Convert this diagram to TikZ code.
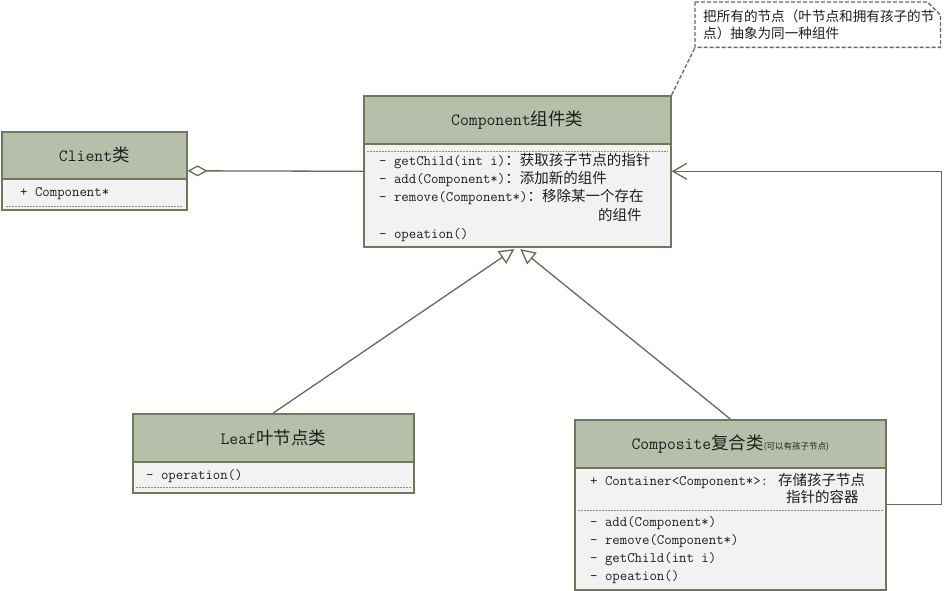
\documentclass[tikz,border=0pt]{standalone}
\usepackage{fontspec}
\newfontfamily\cjk{Noto Sans CJK SC}
\usetikzlibrary{arrows.meta,calc}
\definecolor{hdr}{HTML}{B7BFAB}
\definecolor{bord}{HTML}{6E785C}
\definecolor{bodyc}{HTML}{F2F2F2}
\definecolor{lnc}{HTML}{646D55}
\definecolor{dsh}{HTML}{8C8C8C}
\definecolor{txt}{HTML}{1E1E1E}
\newcommand\zh[1]{{\cjk\fontsize{14.5}{18}\selectfont #1}}
\newcommand\zhH[1]{{\cjk\fontsize{17.5}{20}\selectfont #1}}
\newcommand\zhS[1]{{\cjk\fontsize{8.5}{10}\selectfont #1}}
\begin{document}
\begin{tikzpicture}[x=1pt,y=-1pt,
  hbox/.style={draw=bord, fill=hdr, line width=1.6pt, inner sep=0pt, anchor=north west},
  bbox/.style={draw=bord, fill=bodyc, line width=1.6pt, inner sep=0pt, anchor=north west},
  htxt/.style={font=\fontsize{17.2}{20}\ttfamily, text=txt, inner sep=0pt, anchor=center},
  btxt/.style={font=\fontsize{14.4}{18}\ttfamily, text=txt, inner sep=0pt, anchor=base west},
  sepline/.style={dsh, dash pattern=on 2pt off 1pt, line width=1pt},
  conn/.style={lnc, line width=1.3pt},
  notestyle/.style={draw=lnc, dash pattern=on 4pt off 2pt, line width=1.3pt},
]
\useasboundingbox (0,0) rectangle (944,591);
\fill[white] (0,0) rectangle (944,591);

% Client
\node[bbox, minimum width=185pt, minimum height=78pt] (clientB) at (1,131) {};
\node[hbox, minimum width=185pt, minimum height=47pt] (clientH) at (1,131) {};
\node[htxt] (clientT) at (clientH.center) {Client\zhH{类}};
\node[btxt] (clientA) at (20,196) {+ Component*};
\draw[sepline] ($(clientB.south west)+(5,-4)$) -- ($(clientB.south east)+(-5,-4)$);

% Component
\node[bbox, minimum width=307pt, minimum height=151pt] (compB) at (363,95) {};
\node[hbox, minimum width=307pt, minimum height=48pt] (compH) at (363,95) {};
\node[htxt] (compT) at (compH.center) {Component\zhH{组件类}};
\draw[sepline] ($(compH.south west)+(4,6.5)$) -- ($(compH.south east)+(-4,6.5)$);
\node[btxt] (c1) at (379,165) {- getChild(int i)\zh{：获取孩子节点的指针}};
\node[btxt] (c2) at (379,183) {- add(Component*)\zh{：添加新的组件}};
\node[btxt] (c3) at (379,201.5) {- remove(Component*)\zh{：移除某一个存在}};
\node[btxt] (c4) at (598,220) {\zh{的组件}};
\node[btxt] (c5) at (379,238.5) {- opeation()};

% Note
\node[inner sep=0pt, minimum width=245pt, minimum height=45pt, anchor=north west] (note) at (695,2) {};
\draw[notestyle] (note.north west) -- ($(note.north east)+(-13,0)$) -- ($(note.north east)+(0,13)$) -- (note.south east) -- (note.south west) -- cycle;
\node[inner sep=0pt, anchor=west, text=txt, font=\cjk\fontsize{13.6}{16}\selectfont] (n1) at (703,16.5) {把所有的节点（叶节点和拥有孩子的节};
\node[inner sep=0pt, anchor=west, text=txt, font=\cjk\fontsize{13.6}{16}\selectfont] (n2) at (703,33) {点）抽象为同一种组件};
\draw[notestyle] (compH.north east) -- (note.south west);

% Leaf
\node[bbox, minimum width=281pt, minimum height=79pt] (leafB) at (132,413) {};
\node[hbox, minimum width=281pt, minimum height=48pt] (leafH) at (132,413) {};
\node[htxt] (leafT) at (leafH.center) {Leaf\zhH{叶节点类}};
\node[btxt] (l1) at (146,479.5) {- operation()};
\draw[sepline] ($(leafB.south west)+(4,-6)$) -- ($(leafB.south east)+(-4,-6)$);

% Composite
\node[bbox, minimum width=311pt, minimum height=170pt] (compoB) at (574,419) {};
\node[hbox, minimum width=311pt, minimum height=48pt] (compoH) at (574,419) {};
\node[htxt] (compoT) at (compoH.center) {Composite\zhH{复合类}\zhS{(可以有孩子节点)}};
\node[btxt] (p1) at (590,485.5) {+ Container<Component*>: \zh{存储孩子节点}};
\node[btxt] (p2) at (786,502.5) {\zh{指针的容器}};
\draw[sepline] ($(compoH.south west)+(4,42)$) -- ($(compoH.south east)+(-4,42)$);
\node[btxt] (m1) at (590,526.5) {- add(Component*)};
\node[btxt] (m2) at (590,544) {- remove(Component*)};
\node[btxt] (m3) at (590,562) {- getChild(int i)};
\node[btxt] (m4) at (590,580.5) {- opeation()};

% Connectors
\draw[conn, {Diamond[open, length=20pt, width=11pt, line width=1.3pt]}-] (clientB.east) -- (compB.west);
\draw[conn, -{Triangle[open, length=15pt, width=15pt, line width=1.3pt]}] (leafH.north) -- ($(compB.south)+(-3,1.5)$);
\draw[conn, -{Triangle[open, length=15pt, width=15pt, line width=1.3pt]}] (compoH.north) -- ($(compB.south)+(3,1.5)$);
\draw[conn, -{Straight Barb[length=14pt, width=16pt, line width=1.3pt]}] (compoB.east) -- ++(55,0) |- (compB.east);
\end{tikzpicture}
\end{document}
